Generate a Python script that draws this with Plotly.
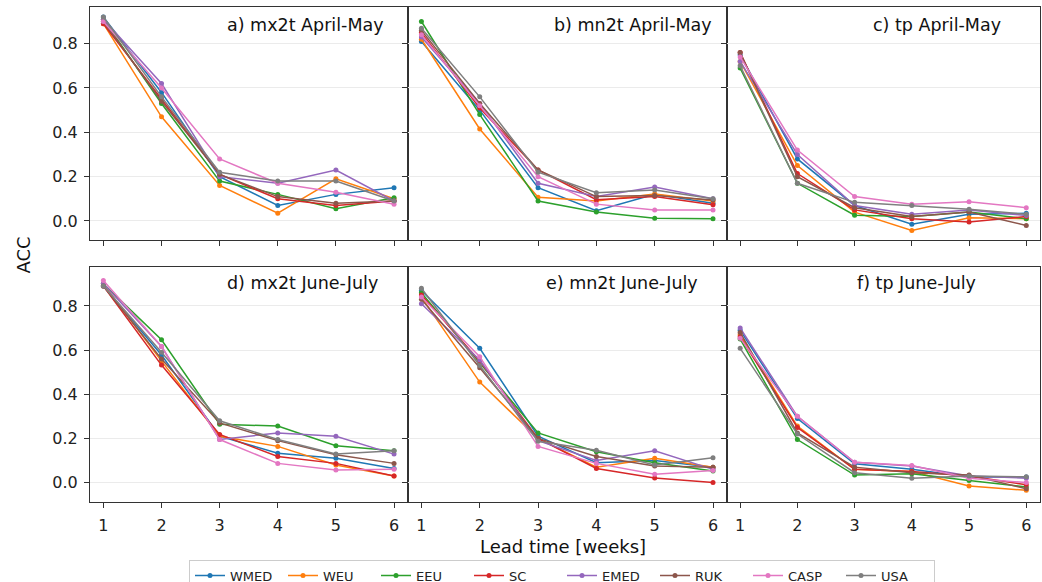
import plotly.graph_objects as go

# lead time in weeks
weeks = [1, 2, 3, 4, 5, 6]
regions = ["WMED", "WEU", "EEU", "SC", "EMED", "RUK", "CASP", "USA"]
colors = ["#1f77b4", "#ff7f0e", "#2ca02c", "#d62728",
          "#9467bd", "#8c564b", "#e377c2", "#7f7f7f"]

# ACC per region, one dict per panel
mx2t_am = {
    "WMED": [0.92, 0.58, 0.20, 0.07, 0.12, 0.15],
    "WEU":  [0.89, 0.47, 0.16, 0.035, 0.19, 0.10],
    "EEU":  [0.91, 0.53, 0.18, 0.12, 0.055, 0.105],
    "SC":   [0.89, 0.55, 0.21, 0.10, 0.07, 0.09],
    "EMED": [0.91, 0.62, 0.20, 0.17, 0.23, 0.09],
    "RUK":  [0.90, 0.54, 0.21, 0.11, 0.08, 0.09],
    "CASP": [0.90, 0.60, 0.28, 0.17, 0.13, 0.075],
    "USA":  [0.92, 0.56, 0.22, 0.18, 0.18, 0.09],
}
mn2t_am = {
    "WMED": [0.81, 0.50, 0.15, 0.046, 0.12, 0.08],
    "WEU":  [0.82, 0.415, 0.107, 0.09, 0.122, 0.09],
    "EEU":  [0.90, 0.48, 0.09, 0.04, 0.012, 0.01],
    "SC":   [0.85, 0.51, 0.23, 0.096, 0.11, 0.073],
    "EMED": [0.83, 0.53, 0.17, 0.11, 0.153, 0.10],
    "RUK":  [0.86, 0.53, 0.23, 0.11, 0.115, 0.095],
    "CASP": [0.84, 0.52, 0.20, 0.076, 0.05, 0.05],
    "USA":  [0.87, 0.56, 0.22, 0.127, 0.14, 0.10],
}
tp_am = {
    "WMED": [0.75, 0.28, 0.07, -0.015, 0.03, 0.035],
    "WEU":  [0.72, 0.25, 0.04, -0.043, 0.015, 0.01],
    "EEU":  [0.69, 0.17, 0.026, 0.02, 0.04, 0.01],
    "SC":   [0.76, 0.214, 0.05, 0.01, -0.005, 0.02],
    "EMED": [0.72, 0.30, 0.07, 0.03, 0.05, 0.025],
    "RUK":  [0.76, 0.20, 0.06, 0.02, 0.04, -0.02],
    "CASP": [0.74, 0.32, 0.11, 0.076, 0.087, 0.06],
    "USA":  [0.70, 0.17, 0.084, 0.07, 0.053, 0.03],
}
mx2t_jj = {
    "WMED": [0.89, 0.578, 0.21, 0.133, 0.11, 0.064],
    "WEU":  [0.90, 0.55, 0.21, 0.164, 0.08, 0.03],
    "EEU":  [0.90, 0.647, 0.264, 0.256, 0.167, 0.144],
    "SC":   [0.89, 0.532, 0.218, 0.118, 0.087, 0.03],
    "EMED": [0.90, 0.616, 0.195, 0.225, 0.21, 0.129],
    "RUK":  [0.89, 0.56, 0.27, 0.19, 0.126, 0.087],
    "CASP": [0.915, 0.616, 0.195, 0.087, 0.057, 0.06],
    "USA":  [0.89, 0.59, 0.28, 0.195, 0.13, 0.144],
}
mn2t_jj = {
    "WMED": [0.87, 0.608, 0.21, 0.09, 0.10, 0.07],
    "WEU":  [0.84, 0.455, 0.20, 0.07, 0.11, 0.07],
    "EEU":  [0.86, 0.54, 0.225, 0.14, 0.09, 0.052],
    "SC":   [0.85, 0.55, 0.20, 0.064, 0.021, 0.0],
    "EMED": [0.81, 0.555, 0.19, 0.10, 0.144, 0.06],
    "RUK":  [0.83, 0.52, 0.20, 0.118, 0.075, 0.069],
    "CASP": [0.84, 0.57, 0.164, 0.087, 0.038, 0.055],
    "USA":  [0.88, 0.53, 0.187, 0.146, 0.08, 0.113],
}
tp_jj = {
    "WMED": [0.69, 0.29, 0.085, 0.06, 0.025, 0.025],
    "WEU":  [0.67, 0.256, 0.06, 0.05, -0.015, -0.035],
    "EEU":  [0.65, 0.195, 0.034, 0.04, 0.01, -0.02],
    "SC":   [0.66, 0.25, 0.06, 0.05, 0.03, -0.01],
    "EMED": [0.70, 0.30, 0.092, 0.075, 0.03, 0.02],
    "RUK":  [0.68, 0.225, 0.07, 0.045, 0.034, -0.028],
    "CASP": [0.654, 0.30, 0.092, 0.077, 0.02, 0.0],
    "USA":  [0.608, 0.22, 0.045, 0.02, 0.03, 0.026],
}

panels = [mx2t_am, mn2t_am, tp_am, mx2t_jj, mn2t_jj, tp_jj]
titles = ["a) mx2t April-May", "b) mn2t April-May", "c) tp April-May",
          "d) mx2t June-July", "e) mn2t June-July", "f) tp June-July"]
title_x = [305, 633, 937, 302, 622, 916]   # text centres, px
title_y = [25, 25, 25, 279, 279, 279]

W, H = 1042, 582      # target picture; positions below are in these px
FIG_H = 592           # figure height
col_px = [(90, 408), (408, 727), (727, 1040)]
row_px = [(7, 237), (263, 495)]
y_ranges = [[-0.087, 0.965], [-0.087, 0.978]]

fig = go.Figure()
font = "DejaVu Sans"

for i, panel in enumerate(panels):
    r, c = divmod(i, 3)
    n = "" if i == 0 else str(i + 1)
    for reg, col in zip(regions, colors):
        fig.add_trace(go.Scatter(
            x=weeks, y=panel[reg], mode="lines+markers", name=reg,
            line=dict(color=col, width=1.5),
            marker=dict(color=col, size=5),
            xaxis="x" + n, yaxis="y" + n,
            showlegend=(i == 0),
        ))
    x0, x1 = col_px[c]
    y0, y1 = row_px[r]
    fig.layout["xaxis" + n] = dict(
        domain=[x0 / W, x1 / W], range=[0.77, 6.24],
        tickvals=weeks, ticks="outside", ticklen=5, tickcolor="#333",
        showticklabels=(r == 1), showgrid=False, zeroline=False,
        showline=True, linecolor="#333", linewidth=1, mirror=True,
        anchor="y" + n, tickfont=dict(size=16, color="#222"),
        ticklabelstandoff=4,
    )
    fig.layout["yaxis" + n] = dict(
        domain=[1 - y1 / H, 1 - y0 / H], range=y_ranges[r],
        tickvals=[0.0, 0.2, 0.4, 0.6, 0.8], tickformat=".1f",
        ticks="outside", ticklen=5, tickcolor="#333",
        showticklabels=(c == 0), showgrid=True, gridcolor="#ebebeb",
        gridwidth=1.2, zeroline=False,
        showline=True, linecolor="#333", linewidth=1, mirror=True,
        anchor="x" + n, tickfont=dict(size=16, color="#222"),
        ticklabelstandoff=3,
    )
    fig.add_annotation(
        text=titles[i], x=title_x[i] / W, y=1 - title_y[i] / H,
        xref="paper", yref="paper", showarrow=False,
        xanchor="center", yanchor="middle",
        font=dict(size=17.5, color="#111", family=font),
    )

fig.add_annotation(text="ACC", x=23 / W, y=1 - 252 / H, xref="paper",
                   yref="paper", showarrow=False, textangle=-90,
                   xanchor="center", yanchor="middle",
                   font=dict(size=18, color="#111", family=font))
fig.add_annotation(text="Lead time [weeks]", x=563 / W, y=1 - 539 / H,
                   xref="paper", yref="paper", showarrow=False,
                   xanchor="center", yanchor="middle",
                   font=dict(size=18, color="#111", family=font))

fig.update_layout(
    width=W, height=FIG_H, autosize=False, margin=dict(l=0, r=0, t=0, b=0),
    paper_bgcolor="white", plot_bgcolor="white",
    font=dict(family=font, color="#222"),
    legend=dict(orientation="h", x=562 / W, xanchor="center",
                y=1 - 552 / H, yanchor="top",
                bordercolor="#cccccc", borderwidth=1,
                font=dict(size=13), entrywidth=48, entrywidthmode="pixels",
                tracegroupgap=0),
)

fig.write_html("out.html", config={"displayModeBar": False},
               post_script="document.body.style.margin='0';")
